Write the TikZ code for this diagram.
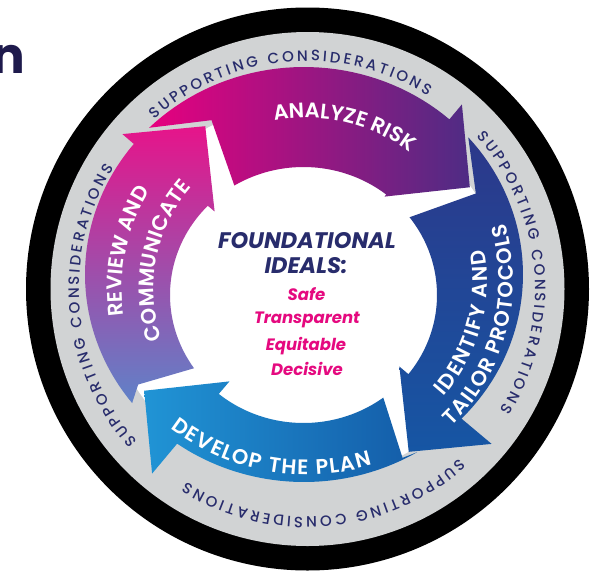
\documentclass[tikz,border=0pt]{standalone}
\usepackage{fontspec}
\setmainfont{Poppins}
\newfontfamily\pmed{Poppins Medium}
\newfontfamily\psemi{Poppins SemiBold}
\usetikzlibrary{calc, decorations.text}

\definecolor{ringgrey}{RGB}{209,211,212}
\definecolor{ringnavy}{RGB}{40,44,108}
\definecolor{headnavy}{RGB}{30,26,76}
\definecolor{idealpink}{RGB}{229,9,127}
\definecolor{riskpink}{RGB}{231,0,127}
\definecolor{riskmid}{RGB}{180,22,135}
\definecolor{riskpurple}{RGB}{78,44,132}
\definecolor{protoltop}{RGB}{44,56,138}
\definecolor{protolbot}{RGB}{22,86,164}
\definecolor{planleft}{RGB}{32,148,213}
\definecolor{planright}{RGB}{20,92,168}
\definecolor{reviewtop}{RGB}{230,20,138}
\definecolor{reviewmid}{RGB}{165,80,168}
\definecolor{reviewbot}{RGB}{95,130,200}

\tikzstyle{ringlabel} = [decorate, 
decoration={text along path, text align=fit to path}]
\tikzstyle{ideal} = [anchor=base, 
inner sep=0pt, 
font=\bfseries\itshape\fontsize{16.5}{16.5}\selectfont, 
text=idealpink]
\tikzstyle{idealhead} = [ideal, 
font=\bfseries\itshape\fontsize{22.5}{22.5}\selectfont, 
text=ringnavy]

\newcommand{\ringfont}{\pmed\fontsize{15}{15}\selectfont\color{ringnavy}}
\newcommand{\stepfont}{\psemi\fontsize{21}{21}\selectfont\color{white}}

% #1 shading, #2 tail inner, #3 notch, #4 tail outer, #5 outer end, #6 head base, #7 inner end
\newcommand{\procarrow}[7]{%
\shade[#1] ({303.5+133.5*cos(#2)},{295+128*sin(#2)})
  -- ({307+194*cos(#3)},{289+194*sin(#3)})
  -- ({304+219*cos(#4)},{274.5+207.5*sin(#4)})
  -- plot[domain=#4:#5, samples=40] ({304+219*cos(\x)},{274.5+207.5*sin(\x)})
  -- ({307+241*cos(#6)},{289+241*sin(#6)})
  -- ({307+192*cos(#6+18)},{289+192*sin(#6+18)})
  -- ({307+120.6*cos(#6)},{289+120.6*sin(#6)})
  -- plot[domain=#7:#2, samples=40] ({303.5+133.5*cos(\x)},{295+128*sin(\x)})
  -- cycle;}

\begin{document}
\begin{tikzpicture}[x=1pt, y=-1pt]
\useasboundingbox (0,0) rectangle (595,571);
\coordinate (O) at (307,289);

\node (heading) [anchor=base east, inner sep=0pt, text=headnavy, 
font=\bfseries\fontsize{50}{50}\selectfont] at (25,73) {n};

% rings
\fill[black] (307.5,289) circle (281.5);
\fill[ringgrey] (307.5,289) circle (257);
\fill[white] (306,291) ellipse [x radius=198, y radius=188];

\foreach \c in {-95,-5,85,175}
  \path[ringlabel, decoration={text={|\ringfont|SUPPORTING CONSIDERATIONS}}]
    ($(O)+(\c-37:228)$) arc[start angle=\c-37, end angle=\c+37, radius=228];

% the four steps
\procarrow{left color=riskpink, middle color=riskmid, right color=riskpurple}{238.8}{240.5}{225}{311.6}{310}{308.3}
\procarrow{top color=protoltop, bottom color=protolbot}{-37.4}{-29.5}{-41.4}{44}{40}{38.2}
\procarrow{left color=planleft, right color=planright}{53.3}{60.5}{58.9}{125.4}{130}{129.4}
\procarrow{top color=reviewtop, middle color=reviewmid, bottom color=reviewbot}{145.1}{150.5}{141.7}{219}{220}{224.2}

\path[ringlabel, decoration={text={|\stepfont|ANALYZE RISK}}]
  ($(O)+(-101:171)$) arc[start angle=-101, end angle=-54, radius=171];
\path[ringlabel, decoration={text={|\stepfont|IDENTIFY AND}}]
  ($(310,280)+(41.2:177.5)$) arc[start angle=41.2, end angle=-9.8, radius=177.5];
\path[ringlabel, decoration={text={|\stepfont|TAILOR PROTOCOLS}}]
  ($(310,280)+(46:203.5)$) arc[start angle=46, end angle=-16.3, radius=203.5];
\path[ringlabel, decoration={text={|\stepfont|DEVELOP THE PLAN}}]
  ($(307,250)+(127.4:224.5)$) arc[start angle=127.4, end angle=73.2, radius=224.5];
\path[ringlabel, decoration={text={|\stepfont|REVIEW AND}}]
  ($(O)+(171.7:185)$) arc[start angle=171.7, end angle=212, radius=185];
\path[ringlabel, decoration={text={|\stepfont|COMMUNICATE}}]
  ($(O)+(161:153.5)$) arc[start angle=161, end angle=221.5, radius=153.5];

% centre
\node (found) [idealhead] at (307,248) {FOUNDATIONAL};
\node (ideals) [idealhead] at (306,273) {IDEALS:};
\node (safe) [ideal] at (306.5,300) {Safe};
\node (transp) [ideal] at (307,323) {Transparent};
\node (equit) [ideal] at (306,350) {Equitable};
\node (decis) [ideal] at (307,375) {Decisive};

\end{tikzpicture}
\end{document}
